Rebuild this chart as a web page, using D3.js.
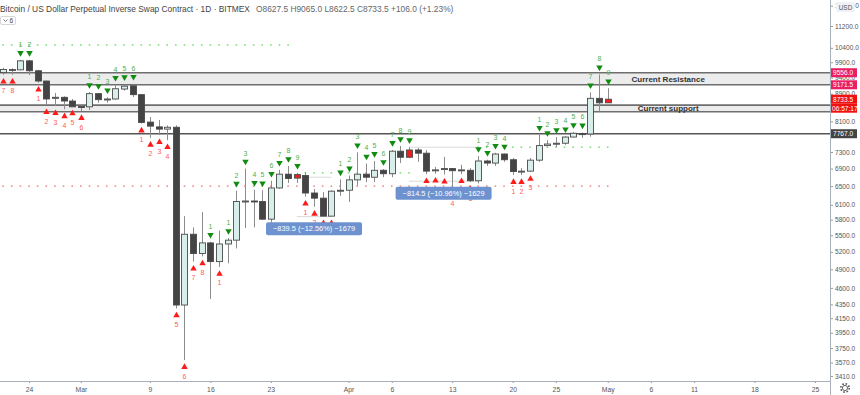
<!DOCTYPE html>
<html>
<head>
<meta charset="utf-8">
<style>
body { margin: 0; background: #fff; }
svg { display: block; font-family: "Liberation Sans", Arial, sans-serif; }
</style>
</head>
<body>
<svg width="860" height="395"></svg>
<script src="https://cdn.jsdelivr.net/npm/d3@7"></script>
<script>
// daily XBTUSD candles, 21 Feb - 1 May 2020
var firstDay = "2020-02-21", lastDay = "2020-05-01";
var opens  = [9560,9650,9650,9950,9620,9290,8760,8790,8680,8520, 8510,8900,8730,8740,9040,9140,8870,8080,7950,7890, 7940,4340,5520,5170,5360,5030,5340,5410,6170,6180, 6170,5810,6460,6770,6680,6740,6350,6240,5870,6390, 6410,6640,6770,6700,6860,6780,7320,7170,7350,7270, 6850,6880,6900,6860,6860,6620,7080,7030,7250,7110, 6830,6840,7100,7460,7500,7520,7680,7770,7760,8760, 8627.5];
var highs  = [9720,9700,9980,9980,9650,9300,8920,8820,8740,8590, 8950,8920,8790,9170,9190,9200,8890,8220,8140,7990, 7990,5870,5650,5950,5380,5590,5450,6400,6900,6420, 6410,6620,6870,6960,6800,6820,6440,6370,6410,6650, 6740,7290,7020,7080,6890,7350,7450,7420,7400,7350, 6940,7180,6910,6990,6910,7200,7110,7280,7260,7150, 6910,7150,7740,7600,7680,7700,7810,7800,8940,9500, 9065];
var lows   = [9490,9490,9630,9480,9240,8560,8530,8440,8520,8390, 8420,8630,8630,8720,8990,8800,8040,7660,7730,7600, 4290,3600,5030,5120,4430,4940,5000,5260,5640,5650, 5790,5740,6440,6570,6570,6270,6060,5870,5870,6290, 6160,6520,6590,6590,6700,6700,7030,7150,7060,6770, 6780,6760,6480,6770,6590,6560,6960,6960,7060,6750, 6750,6820,7060,7440,7420,7480,7670,7660,7690,8370, 8622.5];
var closes = [9660,9660,9950,9620,9290,8740,8790,8680,8510,8510, 8900,8720,8740,9050,9130,8870,8070,7970,7890,7940, 4340,5520,5170,5360,5030,5340,5410,6170,6180,6170, 5810,6460,6770,6670,6760,6350,6240,5870,6390,6410, 6640,6770,6700,6860,6780,7320,7170,7350,7270,6840, 6870,6900,6850,6870,6620,7080,7030,7250,7110,6830, 6840,7100,7460,7500,7520,7680,7780,7760,8760,8627.5, 8733.5];

// TD sequential setup counts (0 = none)
var buyCounts  = [0,0,1,2,0,0,0,0,0,0, 1,2,3,4,5,6,0,0,0,0, 0,0,0,0,1,0,1,2,3,4, 5,6,7,8,9,0,0,0,0,1, 2,3,4,5,6,7,8,9,0,0, 0,0,0,0,0,1,2,3,4,0, 0,0,1,2,3,4,5,6,7,8, 9];
var sellCounts = [7,8,0,0,1,2,3,4,5,6, 0,0,0,0,0,0,1,2,3,4, 5,6,7,8,0,1,0,0,0,0, 0,0,0,0,0,1,2,3,4,0, 0,0,0,0,0,0,0,0,0,1, 2,3,4,5,6,0,0,0,0,1, 2,3,0,0,0,0,0,0,0,0, 0];

// dotted support / resistance levels
var dotPrices = [10500, 6500, 6800, 7420];
var dotFrom   = ["2020-02-21", "2020-02-21", "2020-03-27", "2020-04-16"];
var dotTo     = ["2020-03-25", "2020-05-01", "2020-04-08", "2020-05-01"];
var dotColors = ["#7fe07f", "#f08c8c", "#7fe07f", "#7fe07f"];

// drawn zones and level
var zoneTops    = [9556, 8560];
var zoneBottoms = [9171.5, 8370];
var zoneLabels  = ["Current Resistance", "Current support"];
var zoneLabelDay = "2020-05-08";
var levelPrice = 7767;

// measure tool
var measureHigh = [6700, 7420];
var measureLow  = [5860, 6610];
var measureFrom = ["2020-03-26", "2020-04-08"];
var measureTo   = ["2020-03-30", "2020-04-16"];
var measureText = ["\u2212839.5 (\u221212.56%) \u22121679", "\u2212814.5 (\u221210.96%) \u22121629"];

// axes
var yTicks = [12000, 11200, 10400, 9900, 9400, 8900, 8100, 7300, 6900, 6500, 6100, 5800, 5500, 5200, 4900, 4600, 4350, 4150, 3950, 3750, 3570, 3410];
var xTickDays   = ["2020-02-24","2020-03-01","2020-03-09","2020-03-16","2020-03-23","2020-04-01","2020-04-06","2020-04-13","2020-04-20","2020-04-25","2020-05-01","2020-05-06","2020-05-11","2020-05-18","2020-05-25"];
var xTickLabels = ["24","Mar","9","16","23","Apr","6","13","20","25","May","6","11","18","25"];

// price tags on the right scale
var tagPrices = [9556, 9171.5, 8733.5, 7767];
var tagColors = ["#e91e63", "#e91e63", "#f01010", "#434343"];
var countdown = "06:57:17";

var svg = d3.select("svg"),
    plotRight = 830,
    plotBottom = 381;

var parseDay = d3.utcParse("%Y-%m-%d");

var x = d3.scaleUtc()
    .domain([parseDay("2020-02-24"), parseDay("2020-05-25")])
    .range([29, 815]);
var y = d3.scaleLog()
    .domain([3410, 11200])
    .range([376, 26]);

var days = d3.utcDay.range(parseDay(firstDay), d3.utcDay.offset(parseDay(lastDay), 1));
var candles = days.map(function(d, i) {
    return { date: d, o: opens[i], h: highs[i], l: lows[i], c: closes[i], buy: buyCounts[i], sell: sellCounts[i] };
});

svg.append("defs").append("clipPath").attr("id", "plot")
    .append("rect").attr("width", plotRight).attr("height", plotBottom);

var g = svg.append("g").attr("clip-path", "url(#plot)");

// zones
zoneTops.forEach(function(top, i) {
    var bot = zoneBottoms[i];
    g.append("rect")
        .attr("x", 0).attr("width", plotRight)
        .attr("y", y(top)).attr("height", y(bot) - y(top))
        .attr("fill", "#ececec");
    [top, bot].forEach(function(p) {
        g.append("line")
            .attr("x1", 0).attr("x2", plotRight)
            .attr("y1", y(p)).attr("y2", y(p))
            .attr("stroke", "#6e6e6e").attr("stroke-width", 1.6);
    });
});

g.append("line")
    .attr("x1", 0).attr("x2", plotRight)
    .attr("y1", y(levelPrice)).attr("y2", y(levelPrice))
    .attr("stroke", "#555").attr("stroke-width", 1.6);

// dotted levels, one dot per bar
dotPrices.forEach(function(p, i) {
    var a = parseDay(dotFrom[i]), b = parseDay(dotTo[i]);
    g.selectAll(null)
        .data(candles.filter(function(d) { return d.date >= a && d.date <= b; }))
        .enter().append("rect")
        .attr("x", function(d) { return x(d.date) - 0.8; })
        .attr("y", y(p) - 0.8)
        .attr("width", 1.6).attr("height", 1.6)
        .attr("fill", dotColors[i]);
});

// measure guide lines
measureHigh.forEach(function(p, i) {
    var x0 = x(parseDay(measureFrom[i])), x1 = x(parseDay(measureTo[i]));
    [p, measureLow[i]].forEach(function(v) {
        g.append("line")
            .attr("x1", x0).attr("x2", x1)
            .attr("y1", y(v)).attr("y2", y(v))
            .attr("stroke", "#cfcfcf").attr("stroke-width", 0.8);
    });
});

// candles
var bw = 6;
var candle = g.selectAll(".candle")
    .data(candles)
    .enter().append("g")
    .attr("class", "candle");

candle.append("line")
    .attr("x1", function(d) { return Math.round(x(d.date)) + 0.5; })
    .attr("x2", function(d) { return Math.round(x(d.date)) + 0.5; })
    .attr("y1", function(d) { return y(d.h); })
    .attr("y2", function(d) { return y(d.l); })
    .attr("stroke", "#8c8c8c")
    .attr("stroke-width", 1);

candle.append("rect")
    .attr("x", function(d) { return Math.round(x(d.date)) + 0.5 - bw / 2; })
    .attr("y", function(d) { return y(Math.max(d.o, d.c)); })
    .attr("width", bw)
    .attr("height", function(d) { return Math.max(1, y(Math.min(d.o, d.c)) - y(Math.max(d.o, d.c))); })
    .attr("fill", function(d) {
        if (d.buy === 9) return "#f21c1c";
        return d.c >= d.o ? "#d8eeea" : "#444";
    })
    .attr("stroke", "#4a4a4a")
    .attr("stroke-width", 0.9);

// TD markers
var tri = d3.symbol().type(d3.symbolTriangle).size(18);

var buys = candles.filter(function(d) { return d.buy > 0; });
g.selectAll(".buyMark")
    .data(buys)
    .enter().append("path")
    .attr("class", "buyMark")
    .attr("d", tri)
    .attr("transform", function(d) { return "translate(" + (Math.round(x(d.date)) + 0.5) + "," + (y(d.h) - 7) + ") rotate(180)"; })
    .attr("fill", "#118c11");
g.selectAll(".buyNum")
    .data(buys)
    .enter().append("text")
    .attr("class", "buyNum")
    .attr("x", function(d) { return Math.round(x(d.date)) + 0.5; })
    .attr("y", function(d) { return y(d.h) - 13; })
    .attr("text-anchor", "middle")
    .attr("font-size", 7)
    .attr("fill", "#4caf50")
    .text(function(d) { return d.buy; });

var sells = candles.filter(function(d) { return d.sell > 0; });
g.selectAll(".sellMark")
    .data(sells)
    .enter().append("path")
    .attr("class", "sellMark")
    .attr("d", tri)
    .attr("transform", function(d) { return "translate(" + (Math.round(x(d.date)) + 0.5) + "," + (y(d.l) + 7) + ")"; })
    .attr("fill", "#ff1a1a");
g.selectAll(".sellNum")
    .data(sells)
    .enter().append("text")
    .attr("class", "sellNum")
    .attr("x", function(d) { return Math.round(x(d.date)) + 0.5; })
    .attr("y", function(d) { return y(d.l) + 18.5; })
    .attr("text-anchor", "middle")
    .attr("font-size", 7)
    .attr("fill", "#ff5a5a")
    .text(function(d) { return d.sell; });

// measure labels
measureText.forEach(function(t, i) {
    var cx = (x(parseDay(measureFrom[i])) + x(parseDay(measureTo[i]))) / 2,
        cy = y(measureLow[i]) + 12;
    g.append("rect")
        .attr("x", cx - 48).attr("y", cy - 6.5)
        .attr("width", 96).attr("height", 13)
        .attr("rx", 2)
        .attr("fill", "#6d92cf");
    g.append("text")
        .attr("x", cx).attr("y", cy + 2.6)
        .attr("text-anchor", "middle")
        .attr("font-size", 7.4)
        .attr("fill", "#fff")
        .text(t);
});

// zone captions
zoneLabels.forEach(function(t, i) {
    g.append("text")
        .attr("x", x(parseDay(zoneLabelDay)))
        .attr("y", y(Math.sqrt(zoneTops[i] * zoneBottoms[i])) + 3)
        .attr("text-anchor", "middle")
        .attr("font-size", 8)
        .attr("font-weight", "bold")
        .attr("fill", "#333")
        .text(t);
});

// x axis
var xAxis = svg.append("g")
    .attr("transform", "translate(0," + plotBottom + ")")
    .call(d3.axisBottom(x)
        .tickValues(xTickDays.map(parseDay))
        .tickSize(2)
        .tickFormat(function(d, i) { return xTickLabels[i]; }));
xAxis.select(".domain").remove();
xAxis.selectAll("line").attr("stroke", "#999");
xAxis.selectAll("text").attr("font-size", 6.8).attr("fill", "#555").attr("dy", "0.9em");

svg.append("line")
    .attr("x1", 0).attr("x2", plotRight)
    .attr("y1", plotBottom + 0.5).attr("y2", plotBottom + 0.5)
    .attr("stroke", "#aab0bb");

// y axis
var yAxis = svg.append("g")
    .attr("transform", "translate(" + plotRight + ",0)")
    .call(d3.axisRight(y)
        .tickValues(yTicks)
        .tickSize(3)
        .tickPadding(2)
        .tickFormat(d3.format(".1f")));
yAxis.select(".domain").remove();
yAxis.selectAll("line").attr("stroke", "#999");
yAxis.selectAll("text").attr("font-size", 6.6).attr("fill", "#555");

svg.append("line")
    .attr("x1", plotRight + 0.5).attr("x2", plotRight + 0.5)
    .attr("y1", 0).attr("y2", 395)
    .attr("stroke", "#aab0bb");

// price tags
tagPrices.forEach(function(p, i) {
    var ty = y(p);
    svg.append("rect")
        .attr("x", plotRight + 1).attr("y", ty - 4.5)
        .attr("width", 26).attr("height", 9)
        .attr("fill", tagColors[i]);
    svg.append("text")
        .attr("x", plotRight + 3).attr("y", ty + 2.4)
        .attr("font-size", 6.6)
        .attr("fill", "#fff")
        .text(d3.format(".1f")(p));
});
var last = candles[candles.length - 1];
svg.append("rect")
    .attr("x", plotRight + 1).attr("y", y(last.c) + 4.5)
    .attr("width", 26).attr("height", 9)
    .attr("fill", "#f01010");
svg.append("text")
    .attr("x", plotRight + 2).attr("y", y(last.c) + 11.4)
    .attr("font-size", 6.6)
    .attr("fill", "#fff")
    .text(countdown);

// currency badge and settings gear
svg.append("rect")
    .attr("x", plotRight + 6).attr("y", 2)
    .attr("width", 19).attr("height", 10)
    .attr("rx", 2)
    .attr("fill", "#eef1f6");
svg.append("text")
    .attr("x", plotRight + 15.5).attr("y", 9.5)
    .attr("text-anchor", "middle")
    .attr("font-size", 6.4)
    .attr("fill", "#555")
    .text("USD");

var gear = svg.append("g").attr("transform", "translate(845,388)");
gear.append("circle").attr("r", 4.2)
    .attr("fill", "none").attr("stroke", "#555").attr("stroke-width", 1.6)
    .attr("stroke-dasharray", "1.6,1.7");
gear.append("circle").attr("r", 2.6)
    .attr("fill", "none").attr("stroke", "#555").attr("stroke-width", 0.9);

// header
var header = svg.append("text")
    .attr("x", 0).attr("y", 11.5)
    .attr("font-size", 8.4)
    .attr("fill", "#444");
header.append("tspan")
    .text("Bitcoin / US Dollar Perpetual Inverse Swap Contract \u00b7 1D \u00b7 BITMEX");
header.append("tspan")
    .attr("dx", 6)
    .attr("fill", "#666")
    .text("O8627.5 H9065.0 L8622.5 C8733.5 +106.0 (+1.23%)");

svg.append("rect")
    .attr("x", 0.5).attr("y", 16.5)
    .attr("width", 15).attr("height", 8)
    .attr("rx", 1.5)
    .attr("fill", "#fff").attr("stroke", "#d6d6d6");
svg.append("path")
    .attr("d", "M3.5,19.5 L5.5,21.5 L7.5,19.5")
    .attr("fill", "none").attr("stroke", "#555").attr("stroke-width", 0.8);
svg.append("text")
    .attr("x", 9.5).attr("y", 23)
    .attr("font-size", 6.6)
    .attr("fill", "#444")
    .text("6");
</script>
</body>
</html>
